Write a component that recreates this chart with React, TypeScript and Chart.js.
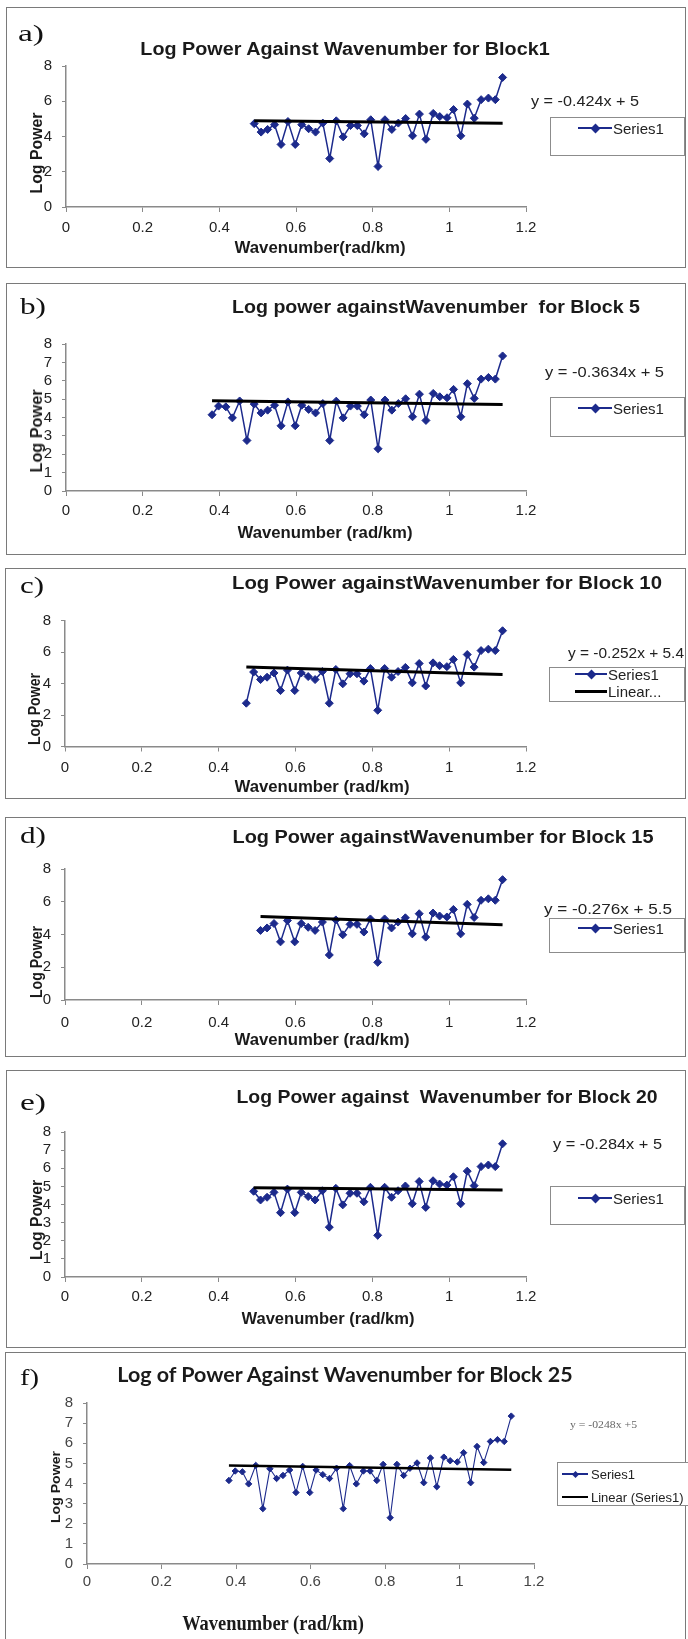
import React, { useEffect, useRef } from 'react';
import { Chart, registerables } from 'chart.js';

Chart.register(...registerables);

// ---------------- data ----------------
const waveNumber = [
  0.381, 0.398, 0.417, 0.434, 0.453, 0.472, 0.491, 0.509, 0.526, 0.544,
  0.561, 0.579, 0.598, 0.615, 0.633, 0.651, 0.670, 0.688, 0.705, 0.723,
  0.742, 0.760, 0.778, 0.795, 0.814, 0.832, 0.850, 0.867, 0.886, 0.904,
  0.922, 0.939, 0.958, 0.975, 0.994, 1.011, 1.030, 1.047, 1.065, 1.083,
  1.102, 1.120, 1.139,
];
const logPower = [
  4.15, 4.62, 4.58, 3.98, 4.90, 2.75, 4.73, 4.25, 4.40, 4.67,
  3.55, 4.85, 3.55, 4.67, 4.44, 4.25, 4.76, 2.75, 4.89, 3.98,
  4.62, 4.62, 4.15, 4.95, 2.30, 4.95, 4.40, 4.76, 5.02, 4.04,
  5.27, 3.84, 5.31, 5.13, 5.07, 5.53, 4.04, 5.84, 5.04, 6.09,
  6.18, 6.09, 7.35,
];
// index of the first plotted point in each block (a..f)
const panelStart = [6, 0, 5, 7, 6, 0];
// fitted line value at the first and last plotted wavenumber
const trendStart = [4.90, 4.91, 5.04, 5.10, 4.93, 4.90];
const trendEnd = [4.75, 4.71, 4.57, 4.59, 4.80, 4.68];

const panelLetters = ['a)', 'b)', 'c)', 'd)', 'e)', 'f)'];
const panelTitles = [
  'Log Power Against Wavenumber for Block1',
  'Log power againstWavenumber  for Block 5',
  'Log Power againstWavenumber for Block 10',
  'Log Power againstWavenumber for Block 15',
  'Log Power against  Wavenumber for Block 20',
  'Log of Power Against Wavenumber for Block 25',
];
const xAxisTitles = [
  'Wavenumber(rad/km)',
  'Wavenumber (rad/km)',
  'Wavenumber (rad/km)',
  'Wavenumber (rad/km)',
  'Wavenumber (rad/km)',
  'Wavenumber (rad/km)',
];
const yAxisTitle = 'Log Power';
const equations = [
  'y = -0.424x + 5',
  'y = -0.3634x + 5',
  'y = -0.252x + 5.4',
  'y = -0.276x + 5.5',
  'y = -0.284x + 5',
  'y = -0248x +5',
];
const legendLabels = [
  ['Series1'],
  ['Series1'],
  ['Series1', 'Linear...'],
  ['Series1'],
  ['Series1'],
  ['Series1', 'Linear (Series1)'],
];
const xTickLabels = ['0', '0.2', '0.4', '0.6', '0.8', '1', '1.2'];

// ---------------- layout / style ----------------
const NAVY = '#1c2a8c';
const AXIS = '#8a8a8a';
const ARIAL = "'Liberation Sans', Arial, sans-serif";
const SERIF = "'Liberation Serif', 'Times New Roman', serif";

type Layout = {
  top: number; bottom: number; left: number; canvasBottom: number;
  xLeft: number; xRight: number; y0: number; y8: number; yStep: number; xLabelPad: number;
  tickFont: number; tickColor: string;
  letterX: number; letterY: number; letterW: number;
  titleX: number; titleY: number; titleW: number; titleFont: string;
  yTitleX: number; yTitleY: number; yTitleW: number; yTitleFont: string;
  xTitleX: number; xTitleY: number; xTitleW: number; xTitleFont: string;
  eqX: number; eqY: number; eqW: number; eqFont: string; eqColor: string;
  lg: { left: number; top: number; right: number; bottom: number; rows: number[]; l0: number; l1: number; tx: number; font: string; mk: number };
  pointRadius: number; lineWidth: number; trendWidth: number;
};

const TITLE_A = `bold 18px ${ARIAL}`;
const XT = `bold 16px ${ARIAL}`;
const YT = `bold 16px ${ARIAL}`;
const EQ = `15px ${ARIAL}`;
const LG = `15px ${ARIAL}`;

const layouts: Layout[] = [
  {
    top: 7, bottom: 268, left: 6, canvasBottom: 268,
    xLeft: 66, xRight: 526, y0: 207, y8: 66, yStep: 2, xLabelPad: 7, tickFont: 15, tickColor: '#222',
    letterX: 18, letterY: 33, letterW: 26,
    titleX: 345, titleY: 49, titleW: 410, titleFont: TITLE_A,
    yTitleX: 37, yTitleY: 153, yTitleW: 81, yTitleFont: YT,
    xTitleX: 320, xTitleY: 248, xTitleW: 171, xTitleFont: XT,
    eqX: 531, eqY: 100, eqW: 108, eqFont: EQ, eqColor: '#222',
    lg: { left: 550, top: 117, right: 685, bottom: 156, rows: [128], l0: 578, l1: 612, tx: 613, font: LG, mk: 7 },
    pointRadius: 4, lineWidth: 1.5, trendWidth: 3,
  },
  {
    top: 283, bottom: 555, left: 6, canvasBottom: 555,
    xLeft: 66, xRight: 526, y0: 491, y8: 344, yStep: 1, xLabelPad: 6, tickFont: 15, tickColor: '#222',
    letterX: 20, letterY: 306, letterW: 26,
    titleX: 436, titleY: 307, titleW: 408, titleFont: TITLE_A,
    yTitleX: 37, yTitleY: 431, yTitleW: 83, yTitleFont: YT,
    xTitleX: 325, xTitleY: 533, xTitleW: 175, xTitleFont: XT,
    eqX: 545, eqY: 371, eqW: 119, eqFont: EQ, eqColor: '#222',
    lg: { left: 550, top: 397, right: 685, bottom: 437, rows: [408], l0: 578, l1: 612, tx: 613, font: LG, mk: 7 },
    pointRadius: 4, lineWidth: 1.5, trendWidth: 3,
  },
  {
    top: 568, bottom: 799, left: 5, canvasBottom: 799,
    xLeft: 65, xRight: 526, y0: 746.5, y8: 620.5, yStep: 2, xLabelPad: 7, tickFont: 15, tickColor: '#222',
    letterX: 20, letterY: 585, letterW: 24,
    titleX: 447, titleY: 583, titleW: 430, titleFont: TITLE_A,
    yTitleX: 35, yTitleY: 709, yTitleW: 72, yTitleFont: YT,
    xTitleX: 322, xTitleY: 787, xTitleW: 175, xTitleFont: XT,
    eqX: 568, eqY: 652, eqW: 116, eqFont: EQ, eqColor: '#222',
    lg: { left: 549, top: 667, right: 685, bottom: 702, rows: [674, 691], l0: 575, l1: 607, tx: 608, font: LG, mk: 7 },
    pointRadius: 4, lineWidth: 1.5, trendWidth: 3,
  },
  {
    top: 817, bottom: 1057, left: 5, canvasBottom: 1057,
    xLeft: 65, xRight: 526, y0: 1000, y8: 869, yStep: 2, xLabelPad: 9, tickFont: 15, tickColor: '#222',
    letterX: 20, letterY: 835, letterW: 26,
    titleX: 443, titleY: 837, titleW: 421, titleFont: TITLE_A,
    yTitleX: 37, yTitleY: 962, yTitleW: 72, yTitleFont: YT,
    xTitleX: 322, xTitleY: 1040, xTitleW: 175, xTitleFont: XT,
    eqX: 544, eqY: 908, eqW: 128, eqFont: EQ, eqColor: '#222',
    lg: { left: 549, top: 918, right: 685, bottom: 953, rows: [928], l0: 578, l1: 612, tx: 613, font: LG, mk: 7 },
    pointRadius: 4, lineWidth: 1.5, trendWidth: 3,
  },
  {
    top: 1070, bottom: 1348, left: 6, canvasBottom: 1348,
    xLeft: 65, xRight: 526, y0: 1277, y8: 1132, yStep: 1, xLabelPad: 6, tickFont: 15, tickColor: '#222',
    letterX: 20, letterY: 1102, letterW: 26,
    titleX: 447, titleY: 1097, titleW: 421, titleFont: TITLE_A,
    yTitleX: 37, yTitleY: 1220, yTitleW: 80, yTitleFont: YT,
    xTitleX: 328, xTitleY: 1319, xTitleW: 173, xTitleFont: XT,
    eqX: 553, eqY: 1143, eqW: 109, eqFont: EQ, eqColor: '#222',
    lg: { left: 550, top: 1186, right: 685, bottom: 1225, rows: [1198], l0: 578, l1: 612, tx: 613, font: LG, mk: 7 },
    pointRadius: 4, lineWidth: 1.5, trendWidth: 3,
  },
  {
    top: 1352, bottom: 1660, left: 5, canvasBottom: 1639,
    xLeft: 87, xRight: 534, y0: 1564, y8: 1403, yStep: 1, xLabelPad: 4, tickFont: 15, tickColor: '#444',
    letterX: 20, letterY: 1377, letterW: 19,
    titleX: 345, titleY: 1373, titleW: 458, titleFont: "bold 21px Lato, 'Open Sans', sans-serif",
    yTitleX: 56, yTitleY: 1487, yTitleW: 72, yTitleFont: `bold 12px ${ARIAL}`,
    xTitleX: 273, xTitleY: 1623, xTitleW: 182, xTitleFont: `bold 21px ${SERIF}`,
    eqX: 570, eqY: 1425, eqW: 67, eqFont: `10px ${SERIF}`, eqColor: '#666',
    lg: { left: 557, top: 1462, right: 690, bottom: 1506, rows: [1474, 1497], l0: 562, l1: 588, tx: 591, font: `13px ${ARIAL}`, mk: 5 },
    pointRadius: 3.2, lineWidth: 1.1, trendWidth: 2.5,
  },
];

// ---------------- helpers ----------------
let measureCtx: CanvasRenderingContext2D | null = null;
function fitScale(text: string, font: string, target?: number): number {
  if (!target) return 1;
  if (!measureCtx) measureCtx = document.createElement('canvas').getContext('2d');
  if (!measureCtx) return 1;
  measureCtx.font = font;
  const w = measureCtx.measureText(text).width;
  return w > 0 ? target / w : 1;
}

function Txt(props: { x: number; y: number; text: string; font: string; color?: string; w?: number; align?: 'left' | 'center'; rot?: boolean }) {
  const { x, y, text, font, color = '#222', w, align = 'center', rot = false } = props;
  const k = fitScale(text, font, w);
  let transform: string;
  let origin = 'center center';
  if (rot) transform = `translate(-50%,-50%) rotate(-90deg) scaleX(${k})`;
  else if (align === 'center') transform = `translate(-50%,-50%) scaleX(${k})`;
  else { transform = `translate(0,-50%) scaleX(${k})`; origin = 'left center'; }
  return (
    <div style={{ position: 'absolute', left: x, top: y, font, color, whiteSpace: 'pre', lineHeight: 1, transform, transformOrigin: origin }}>
      {text}
    </div>
  );
}

function PanelChart({ idx }: { idx: number }) {
  const ref = useRef<HTMLCanvasElement>(null);
  const L = layouts[idx];
  const H = L.canvasBottom - L.top;
  useEffect(() => {
    const start = panelStart[idx];
    const pts = waveNumber.slice(start).map((x, i) => ({ x, y: logPower[start + i] }));
    const trend = [
      { x: waveNumber[start], y: trendStart[idx] },
      { x: waveNumber[waveNumber.length - 1], y: trendEnd[idx] },
    ];
    const yW = 40;
    const xH = 32;
    const tickFont = { family: ARIAL, size: L.tickFont };
    const chart = new Chart(ref.current as HTMLCanvasElement, {
      type: 'scatter',
      data: {
        datasets: [
          { label: 'Linear (Series1)', data: trend, showLine: true, borderColor: '#000', backgroundColor: '#000', borderWidth: L.trendWidth, pointRadius: 0, order: 0 },
          {
            label: 'Series1', data: pts, showLine: true, borderColor: NAVY, backgroundColor: NAVY,
            borderWidth: L.lineWidth, pointStyle: 'rectRot', pointRadius: L.pointRadius,
            pointBorderColor: NAVY, pointBackgroundColor: NAVY, pointBorderWidth: 1, order: 1,
          },
        ],
      },
      options: {
        animation: false,
        responsive: false,
        maintainAspectRatio: false,
        events: [],
        layout: {
          padding: {
            left: L.xLeft - yW,
            right: 688 - L.xRight,
            top: L.y8 - L.top,
            bottom: H - (L.y0 - L.top) - xH,
          },
        },
        plugins: { legend: { display: false }, tooltip: { enabled: false }, title: { display: false } },
        scales: {
          x: {
            type: 'linear', min: 0, max: 1.2,
            afterFit: (s: any) => { s.height = xH; },
            ticks: {
              stepSize: 0.2, autoSkip: false, maxRotation: 0, padding: L.xLabelPad,
              font: tickFont, color: L.tickColor,
              callback: (_v: any, i: number) => xTickLabels[i],
            },
            grid: { drawOnChartArea: false, drawTicks: true, tickLength: 5, color: AXIS, lineWidth: 1 },
            border: { display: true, color: AXIS, width: 1.5 },
          },
          y: {
            type: 'linear', min: 0, max: 8,
            afterFit: (s: any) => { s.width = yW; },
            ticks: { stepSize: L.yStep, autoSkip: false, padding: 10, font: tickFont, color: L.tickColor, callback: (v: any) => String(v) },
            grid: { drawOnChartArea: false, drawTicks: true, tickLength: 4, color: AXIS, lineWidth: 1 },
            border: { display: true, color: AXIS, width: 1.5 },
          },
        },
      },
    } as any);
    return () => chart.destroy();
  }, []);
  return (
    <canvas
      ref={ref}
      width={688}
      height={H}
      style={{ position: 'absolute', left: 0, top: L.top, width: 688, height: H }}
    />
  );
}

function Legend({ idx }: { idx: number }) {
  const L = layouts[idx];
  const g = L.lg;
  const labels = legendLabels[idx];
  return (
    <>
      <div style={{ position: 'absolute', left: g.left, top: g.top, width: g.right - g.left, height: g.bottom - g.top, border: '1px solid #8c8c8c', boxSizing: 'border-box', background: '#fff' }} />
      {labels.map((lab, r) => {
        const y = g.rows[r];
        const isSeries = r === 0;
        const lw = isSeries ? L.lineWidth : L.trendWidth;
        return (
          <React.Fragment key={r}>
            <div style={{ position: 'absolute', left: g.l0, top: y - lw / 2, width: g.l1 - g.l0, height: lw, background: isSeries ? NAVY : '#000' }} />
            {isSeries && (
              <div style={{ position: 'absolute', left: (g.l0 + g.l1) / 2 - g.mk / 2, top: y - g.mk / 2, width: g.mk, height: g.mk, background: NAVY, transform: 'rotate(45deg)' }} />
            )}
            <Txt x={g.tx} y={y} text={lab} font={g.font} align="left" color="#222" />
          </React.Fragment>
        );
      })}
    </>
  );
}

function Panel({ idx }: { idx: number }) {
  const L = layouts[idx];
  return (
    <>
      <div style={{ position: 'absolute', left: L.left, top: L.top, width: 686 - L.left, height: L.bottom - L.top, border: '1.5px solid #7a7a7a', boxSizing: 'border-box', background: '#fff' }} />
      <PanelChart idx={idx} />
      <Txt x={L.letterX} y={L.letterY} text={panelLetters[idx]} font={`23px ${SERIF}`} align="left" w={L.letterW} color="#111" />
      <Txt x={L.titleX} y={L.titleY} text={panelTitles[idx]} font={L.titleFont} w={L.titleW} color="#1a1a1a" />
      <Txt x={L.yTitleX} y={L.yTitleY} text={yAxisTitle} font={L.yTitleFont} w={L.yTitleW} rot color="#1a1a1a" />
      <Txt x={L.xTitleX} y={L.xTitleY} text={xAxisTitles[idx]} font={L.xTitleFont} w={L.xTitleW} color="#1a1a1a" />
      <Txt x={L.eqX} y={L.eqY} text={equations[idx]} font={L.eqFont} w={L.eqW} align="left" color={L.eqColor} />
      <Legend idx={idx} />
    </>
  );
}

export default function App() {
  return (
    <div style={{ position: 'absolute', left: 0, top: 0, width: 688, height: 1639, overflow: 'hidden', background: '#fff' }}>
      {layouts.map((_, i) => (
        <Panel key={i} idx={i} />
      ))}
    </div>
  );
}
